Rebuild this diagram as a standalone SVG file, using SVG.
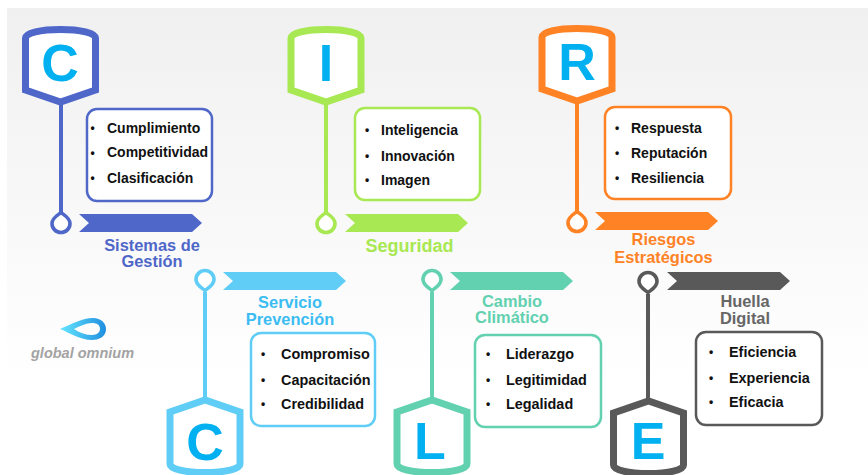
<svg xmlns="http://www.w3.org/2000/svg" width="868" height="475" viewBox="0 0 868 475">
<style>
text{font-family:"Liberation Sans",Arial,sans-serif;font-weight:700}
.item{font-size:14px;fill:#111}
.low{font-size:14.4px}
.dot{font-size:12px;fill:#111}
.lab{font-size:16.4px;text-anchor:middle}
.let{font-size:52px;fill:#00b0f0;text-anchor:middle}
.box{fill:#fff;stroke-width:2.5}
.sh{fill:#fff;stroke-width:7;stroke-linejoin:miter}
.ln{fill:none;stroke-width:4}
.pin{fill:#fff;stroke-width:3.6}
.blue{stroke:#4f67c9;color:#4f67c9}
.lime{stroke:#a8e852;color:#a8e852}
.oran{stroke:#ff8225;color:#ff8225}
.sky{stroke:#5fcdf5;color:#5fcdf5}
.teal{stroke:#62d1b0;color:#62d1b0}
.gray{stroke:#595959;color:#595959}
</style>
<defs>
<linearGradient id="bg" x1="0" y1="0" x2="0" y2="1"><stop offset="0" stop-color="#f0f0f0"/><stop offset="0.8" stop-color="#fff"/></linearGradient>
<linearGradient id="lg" x1="0" y1="0" x2="1" y2="0"><stop offset="0" stop-color="#66e6ff"/><stop offset="1" stop-color="#1f8fdf"/></linearGradient>
<path id="shield" d="M-35,13 C-35,8 -20,4.500 0,4.500 C20,4.500 35,8 35,13 V65 L0,77 L-35,65 Z"/>
<path id="drop" d="M0,-10.500 C2,-8.500 9,-5.500 9,0.500 A9,9 0 0 1 -9,0.500 C-9,-5.500 -2,-8.500 0,-10.500 Z"/>
<polygon id="rib" points="0,0 113,0 123,9 113,18 0,18 10,9"/>
</defs>
<rect width="868" height="475" fill="#fff"/>
<rect x="7" y="8" width="861" height="467" fill="url(#bg)"/>

<g id="connectors" class="ln">
<path class="blue" d="M61,104V213"/>
<path class="lime" d="M326,104V213"/>
<path class="oran" d="M577,103V212"/>
<path class="sky" d="M205,292V400"/>
<path class="teal" d="M432,292V400"/>
<path class="gray" d="M648,294V401"/>
</g>

<g id="node-c1">
<use href="#shield" class="sh blue" x="60.500" y="25"/>
<text class="let" x="60" y="81">C</text>
<rect class="box blue" x="87" y="109" width="125" height="92" rx="10"/>
<text class="dot" x="90.500" y="132">•</text><text class="item" x="107" y="133">Cumplimiento</text>
<text class="dot" x="90.500" y="157">•</text><text class="item" x="107" y="157">Competitividad</text>
<text class="dot" x="90.500" y="182">•</text><text class="item" x="107" y="183">Clasificación</text>
<use href="#drop" class="pin blue" x="61" y="223"/>
<use href="#rib" x="79" y="214" fill="#4f67c9"/>
<text class="lab" x="152" y="251" fill="#4f67c9">Sistemas de</text>
<text class="lab" x="152" y="267" fill="#4f67c9">Gestión</text>
</g>

<g id="node-i">
<use href="#shield" class="sh lime" x="326" y="25"/>
<text class="let" x="326" y="81">I</text>
<rect class="box lime" x="355" y="108" width="125" height="92" rx="10"/>
<text class="dot" x="365" y="134">•</text><text class="item" x="381" y="135">Inteligencia</text>
<text class="dot" x="365" y="160">•</text><text class="item" x="381" y="161">Innovación</text>
<text class="dot" x="365" y="184">•</text><text class="item" x="381" y="185">Imagen</text>
<use href="#drop" class="pin lime" x="326" y="223"/>
<use href="#rib" x="345" y="214" fill="#a8e852"/>
<text class="lab" x="409.500" y="252" fill="#a8e852" style="font-size:18px">Seguridad</text>
</g>

<g id="node-r">
<use href="#shield" class="sh oran" x="577" y="24"/>
<text class="let" x="577" y="80">R</text>
<rect class="box oran" x="605" y="107" width="126" height="92" rx="10"/>
<text class="dot" x="615" y="132">•</text><text class="item" x="631" y="133">Respuesta</text>
<text class="dot" x="615" y="157">•</text><text class="item" x="631" y="158">Reputación</text>
<text class="dot" x="615" y="182">•</text><text class="item" x="631" y="183">Resiliencia</text>
<use href="#drop" class="pin oran" x="577" y="222"/>
<use href="#rib" x="595" y="212" fill="#ff8225"/>
<text class="lab" x="663.500" y="245" fill="#ff8225">Riesgos</text>
<text class="lab" x="663.500" y="263" fill="#ff8225">Estratégicos</text>
</g>

<g id="node-c2">
<use href="#shield" class="sh sky" transform="translate(205,477) scale(1,-1)"/>
<text class="let" x="205" y="460">C</text>
<rect class="box sky" x="251" y="333" width="124" height="93" rx="10"/>
<text class="dot" x="261" y="358">•</text><text class="item low" x="281" y="359">Compromiso</text>
<text class="dot" x="261" y="384">•</text><text class="item low" x="281" y="385">Capacitación</text>
<text class="dot" x="261" y="408">•</text><text class="item low" x="281" y="409">Credibilidad</text>
<use href="#drop" transform="translate(205,280) scale(1,-1)" class="pin sky"/>
<use href="#rib" x="223" y="272" fill="#5fcdf5"/>
<text class="lab" x="290" y="308" fill="#3bbcf2">Servicio</text>
<text class="lab" x="290" y="325" fill="#3bbcf2">Prevención</text>
</g>

<g id="node-l">
<use href="#shield" class="sh teal" transform="translate(432,477) scale(1,-1)"/>
<text class="let" x="430" y="459">L</text>
<rect class="box teal" x="475" y="335" width="126" height="92" rx="10"/>
<text class="dot" x="486" y="358">•</text><text class="item low" x="506" y="359">Liderazgo</text>
<text class="dot" x="486" y="384">•</text><text class="item low" x="506" y="385">Legitimidad</text>
<text class="dot" x="486" y="408">•</text><text class="item low" x="506" y="409">Legalidad</text>
<use href="#drop" transform="translate(432,280) scale(1,-1)" class="pin teal"/>
<use href="#rib" x="450" y="272" fill="#62d1b0"/>
<text class="lab" x="512" y="307" fill="#62d1b0">Cambio</text>
<text class="lab" x="512" y="323" fill="#62d1b0">Climático</text>
</g>

<g id="node-e">
<use href="#shield" class="sh gray" transform="translate(648.500,478) scale(1,-1)"/>
<text class="let" x="648" y="459">E</text>
<rect class="box gray" x="696" y="332" width="126" height="93" rx="10"/>
<text class="dot" x="709" y="356">•</text><text class="item low" x="729" y="357">Eficiencia</text>
<text class="dot" x="709" y="382">•</text><text class="item low" x="729" y="383">Experiencia</text>
<text class="dot" x="709" y="406">•</text><text class="item low" x="729" y="407">Eficacia</text>
<use href="#drop" transform="translate(648,282) scale(1,-1)" class="pin gray"/>
<use href="#rib" x="667" y="272" fill="#595959"/>
<text class="lab" x="745" y="307" fill="#666">Huella</text>
<text class="lab" x="745" y="324" fill="#666">Digital</text>
</g>

<g id="logo">
<path fill="url(#lg)" fill-rule="evenodd" d="M60,329 C72,324 82,318 93,318 C101,318 106,323 106,329 C106,336 100,340 92,340 C80,340 70,333 60,329 Z M74,329 C80,333 86,335 92,335 C97,335 100,332 100,329 C100,325 97,323 92,323 C86,323 80,326 74,329 Z"/>
<text x="31" y="358" font-size="14.500" font-style="italic" fill="#a3a3a3">global omnium</text>
</g>
</svg>
